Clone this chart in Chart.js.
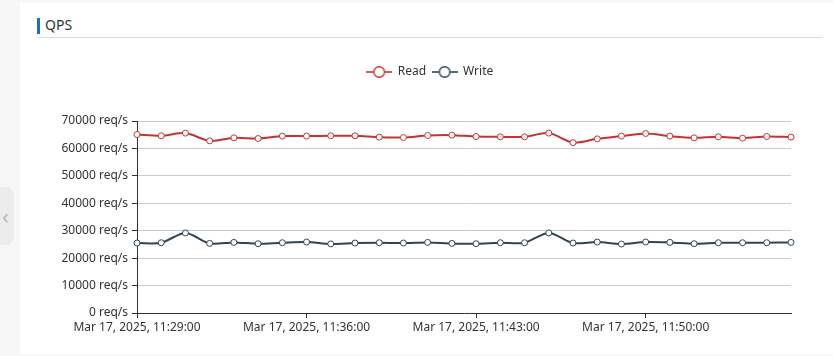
<!DOCTYPE html>
<html>
<head>
<meta charset="utf-8">
<script src="https://cdn.jsdelivr.net/npm/chart.js@4/dist/chart.umd.min.js"></script>
<style>
  html, body { margin: 0; padding: 0; }
  body { width: 833px; height: 356px; background: #f7f7f7; position: relative; overflow: hidden; font-family: "Noto Sans", sans-serif; }
  #card { position: absolute; left: 20px; top: 3px; width: 813px; height: 351px; background: #ffffff; }
  #bar { position: absolute; left: 37px; top: 18px; width: 3px; height: 16px; background: #1570d2; }
  #title { position: absolute; left: 45px; top: 15px; font-size: 14px; line-height: 19px; color: #333; }
  #rule { position: absolute; left: 37px; top: 37px; width: 786px; height: 1px; background: #dddddd; }
  #tab { position: absolute; left: 0; top: 187px; width: 14px; height: 58px; background: #ececec;
         clip-path: polygon(0 0, 70% 0, 100% 12%, 100% 88%, 70% 100%, 0 100%); }
  #tab span { position: absolute; left: 2px; top: 17px; font-size: 22px; color: #b8b8b8; line-height: 22px; }
  #c { position: absolute; left: 0; top: 0; }
</style>
</head>
<body>
<div id="card"></div>
<div id="bar"></div>
<div id="title">QPS</div>
<div id="rule"></div>
<div id="tab"><span>&lsaquo;</span></div>
<canvas id="c" width="833" height="356"></canvas>
<script>
const categories = [
  "Mar 17, 2025, 11:29:00","Mar 17, 2025, 11:30:00","Mar 17, 2025, 11:31:00","Mar 17, 2025, 11:32:00",
  "Mar 17, 2025, 11:33:00","Mar 17, 2025, 11:34:00","Mar 17, 2025, 11:35:00","Mar 17, 2025, 11:36:00",
  "Mar 17, 2025, 11:37:00","Mar 17, 2025, 11:38:00","Mar 17, 2025, 11:39:00","Mar 17, 2025, 11:40:00",
  "Mar 17, 2025, 11:41:00","Mar 17, 2025, 11:42:00","Mar 17, 2025, 11:43:00","Mar 17, 2025, 11:44:00",
  "Mar 17, 2025, 11:45:00","Mar 17, 2025, 11:46:00","Mar 17, 2025, 11:47:00","Mar 17, 2025, 11:48:00",
  "Mar 17, 2025, 11:49:00","Mar 17, 2025, 11:50:00","Mar 17, 2025, 11:51:00","Mar 17, 2025, 11:52:00",
  "Mar 17, 2025, 11:53:00","Mar 17, 2025, 11:54:00","Mar 17, 2025, 11:55:00","Mar 17, 2025, 11:56:00"
];
const readValues = [
  65070, 64600, 65590, 62760, 63860, 63600, 64490, 64490,
  64600, 64600, 64120, 63970, 64710, 64850, 64340, 64230,
  64230, 65590, 62130, 63490, 64490, 65440, 64490, 63860,
  64230, 63750, 64340, 64120
];
const writeValues = [
  25510, 25620, 29190, 25370, 25740, 25260, 25620, 25880,
  25200, 25510, 25620, 25510, 25740, 25370, 25260, 25620,
  25620, 29190, 25510, 25880, 25150, 25880, 25740, 25260,
  25620, 25620, 25620, 25740
];
const yTickValues = [0, 10000, 20000, 30000, 40000, 50000, 60000, 70000];
const xLabelEvery = 7;
const seriesNames = ["Read", "Write"];
const seriesColors = ["#c23531", "#2f4554"];

function makeIcon(color) {
  const cv = document.createElement('canvas');
  cv.width = 26; cv.height = 14;
  const g = cv.getContext('2d');
  g.strokeStyle = color;
  g.lineWidth = 1.6;
  g.beginPath(); g.moveTo(0, 7); g.lineTo(26, 7); g.stroke();
  g.fillStyle = '#fff';
  g.lineWidth = 1.4;
  g.beginPath(); g.arc(13, 7, 5.3, 0, Math.PI * 2); g.fill(); g.stroke();
  return cv;
}
const icons = seriesColors.map(makeIcon);

const legendPlugin = {
  id: 'legendBox',
  beforeLayout(chart) {
    const lg = chart.legend;
    if (lg && !lg._patched) {
      const orig = lg.fit.bind(lg);
      lg.fit = function () { orig(); this.height = 61; };
      lg._patched = true;
    }
  },
  afterLayout(chart) {
    const lg = chart.legend;
    if (lg) { lg.left = 67; lg.right = 793; lg.width = 726; }
  }
};

const font = { family: "'Noto Sans', sans-serif", size: 12 };

new Chart(document.getElementById('c'), {
  type: 'line',
  data: {
    labels: categories,
    datasets: [
      { label: seriesNames[0], data: readValues, borderColor: seriesColors[0], backgroundColor: seriesColors[0],
        borderWidth: 2, tension: 0.3, pointRadius: 3, pointBorderWidth: 1, pointBackgroundColor: '#fff',
        pointBorderColor: seriesColors[0], fill: false },
      { label: seriesNames[1], data: writeValues, borderColor: seriesColors[1], backgroundColor: seriesColors[1],
        borderWidth: 2, tension: 0.3, pointRadius: 3, pointBorderWidth: 1, pointBackgroundColor: '#fff',
        pointBorderColor: seriesColors[1], fill: false }
    ]
  },
  options: {
    responsive: false,
    devicePixelRatio: 1,
    animation: false,
    layout: { padding: { left: 0, right: 42, top: 60, bottom: 0 } },
    plugins: {
      tooltip: { enabled: false },
      legend: {
        position: 'top',
        align: 'center',
        labels: {
          usePointStyle: true,
          pointStyleWidth: 25,
          padding: 6,
          color: '#333',
          font: font,
          generateLabels(chart) {
            const items = Chart.defaults.plugins.legend.labels.generateLabels(chart);
            items.forEach((it, i) => { it.pointStyle = icons[i]; });
            return items;
          }
        }
      }
    },
    scales: {
      x: {
        type: 'category',
        afterBuildTicks(scale) { scale.ticks = scale.ticks.filter(t => t.value % xLabelEvery === 0); },
        afterFit(scale) { scale.height = 43; },
        grid: { drawOnChartArea: false, drawTicks: true, tickLength: 5, color: '#333', tickColor: '#333' },
        border: { color: '#333', width: 1 },
        ticks: { autoSkip: false, maxRotation: 0, minRotation: 0, padding: 2, color: '#333', font: font }
      },
      y: {
        min: 0, max: 70000,
        afterBuildTicks(scale) { scale.ticks = yTickValues.map(v => ({ value: v })); },
        afterFit(scale) { scale.width = 137; },
        grid: { color: '#cccccc', tickColor: '#333', tickLength: 5, drawTicks: true },
        border: { color: '#333', width: 1 },
        ticks: { padding: 4, color: '#333', font: font, callback: v => v + ' req/s' }
      }
    }
  },
  plugins: [legendPlugin]
});
</script>
</body>
</html>
